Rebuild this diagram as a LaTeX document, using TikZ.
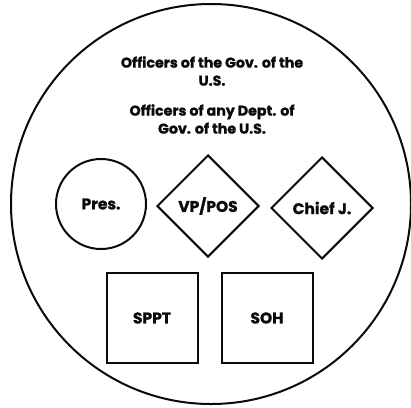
\documentclass[tikz,border=0pt]{standalone}
\usepackage{fontspec}
\setmainfont{Poppins}[BoldFont={Poppins Bold},BoldFeatures={FakeBold=1.2}]
\usetikzlibrary{shapes.geometric,positioning}
\definecolor{ink}{RGB}{10,10,10}
\tikzset{
  shp/.style={draw=ink,line width=2pt,align=center,font=\bfseries\fontsize{15.5}{18}\selectfont,text=ink},
  roundbox/.style={shp,circle,minimum size=90pt,inner sep=0pt},
  diabox/.style={shp,diamond,minimum size=102pt,inner sep=0pt},
  sqbox/.style={shp,rectangle,minimum width=91pt,minimum height=90pt,inner sep=0pt},
  heading/.style={font=\bfseries\fontsize{14.2}{18}\selectfont,text=ink,align=center}
}
\begin{document}
\begin{tikzpicture}[x=1pt,y=-1pt]
  \useasboundingbox (0,0) rectangle (411,407);
  % outer circle
  \node[draw=ink,line width=2pt,circle,minimum size=400pt,inner sep=0pt] (outer) at (211,204) {};
  % headings
  \node[heading] (govt) at (212,71) {Officers of the Gov. of the\\U.S.};
  \node[heading] (dept) at (212,119) {Officers of any Dept. of\\Gov. of the U.S.};
  % middle row
  \node[roundbox] (pres) at (101,204) {Pres.};
  \node[diabox] (vp) at (208,206) {VP/POS};
  \node[diabox] (chief) at (322,208) {Chief J.};
  % bottom row
  \node[sqbox] (sppt) at (152,318) {SPPT};
  \node[sqbox] (soh) at (267,318) {SOH};
\end{tikzpicture}
\end{document}
